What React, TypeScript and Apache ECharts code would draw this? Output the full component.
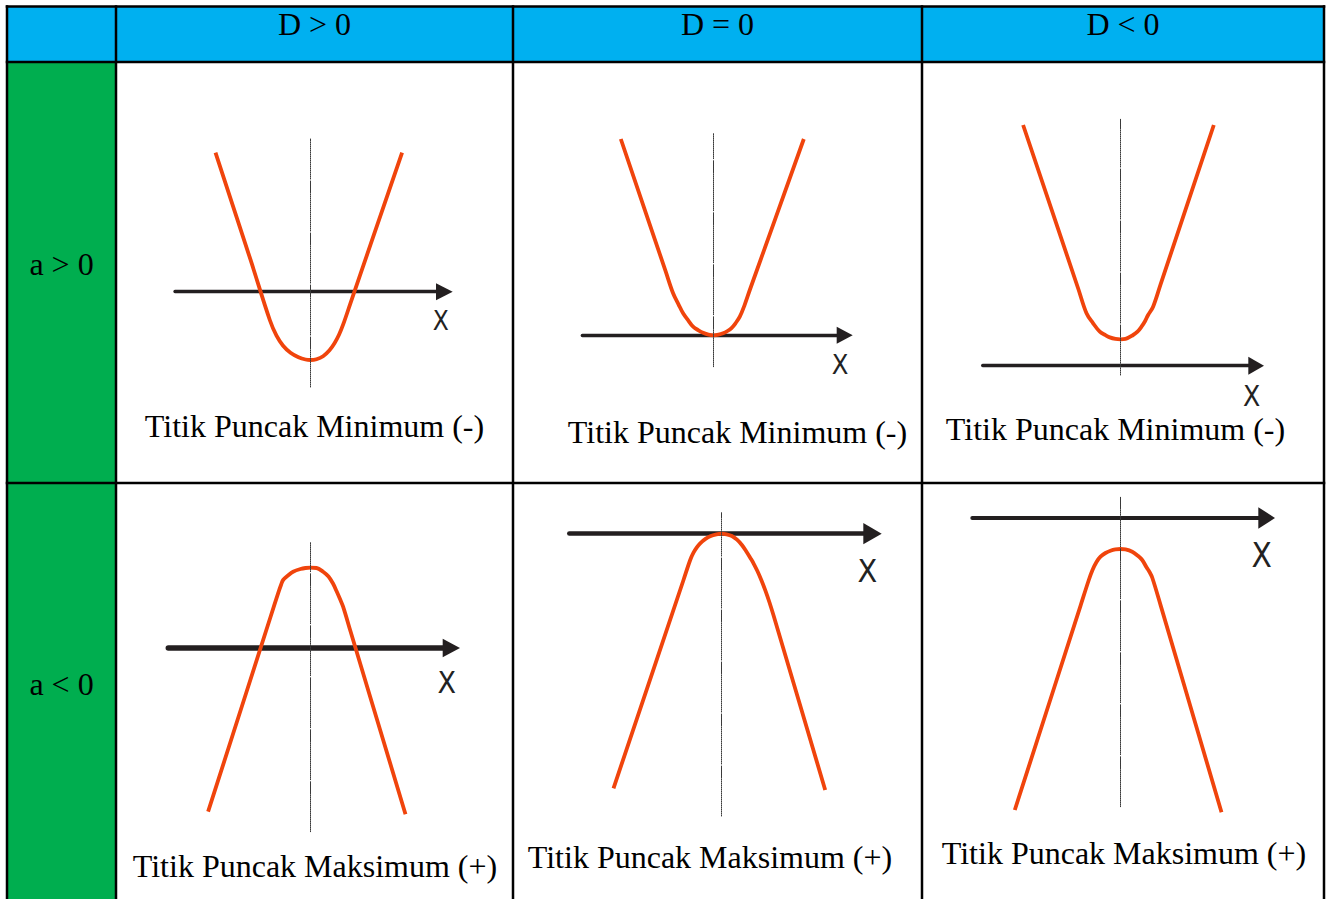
import React, { useEffect, useRef } from "react";
import * as echarts from "echarts";

// ---------- texts ----------
const columnHeaders = ["D > 0", "D = 0", "D < 0"];
const rowHeaders = ["a > 0", "a < 0"];
const captions = [
  "Titik Puncak Minimum (-)",
  "Titik Puncak Minimum (-)",
  "Titik Puncak Minimum (-)",
  "Titik Puncak Maksimum (+)",
  "Titik Puncak Maksimum (+)",
  "Titik Puncak Maksimum (+)",
];
const axisName = "X";

// ---------- curve data (x from symmetry axis, y up from the X axis) ----------
const curveAPosDPos = [
  [-95, 139], [-60, 32], [-40.7, -28.3], [-34, -44], [-27.4, -54], [-20, -61], [-12, -65.5],
  [-5, -67.8], [0, -68.3], [6, -67.5], [12.6, -64.5], [19, -58.5], [24, -51.5], [28.5, -43],
  [32.6, -33], [40, -11.4], [60, 47], [91.6, 139],
];
const curveAPosDZero = [
  [-92.7, 196.3], [-48, 64.4], [-40.4, 42], [-35, 31], [-30.4, 22], [-25, 14.5], [-20.4, 8.6],
  [-15, 5], [-10.4, 2.5], [-5, 0.6], [0, 0], [5, 0.6], [9.6, 2], [14, 4.3], [18, 7.2], [22, 12],
  [26.3, 18.6], [31, 30], [36.3, 45.3], [44, 66.8], [90.3, 196.3],
];
const curveAPosDNeg = [
  [-97.4, 240.7], [-42, 76.2], [-34, 52.4], [-27.4, 42.4], [-20.7, 34], [-15, 30.5],
  [-10.7, 28.3], [-5, 26.8], [0, 26.4], [5, 26.8], [12.6, 30.7], [17, 34], [21, 39],
  [24.5, 44.5], [27.6, 50.7], [32.6, 59], [40, 81.1], [93.3, 240.7],
];
const curveANegDPos = [
  [-102.4, -163.7], [-40, 31], [-32.4, 54.7], [-29.5, 63], [-27.4, 68], [-22, 73], [-17.4, 76.3],
  [-10, 79], [-5, 80], [0, 80.3], [6, 80], [12.6, 76.3], [18, 71.5], [22.5, 64.5], [26, 57],
  [29.5, 49], [32.6, 41.3], [40, 16.7], [95, -166.3],
];
const curveANegDZero = [
  [-108, -254.6], [-38, -46.3], [-31.3, -26.3], [-28, -19], [-24.5, -13.5], [-21.3, -9.6],
  [-16, -5.2], [-11.3, -2.5], [-5, -0.6], [0, 0], [5, -0.6], [10.4, -2.3], [15.5, -6],
  [20.4, -11.3], [25, -18], [29, -24.5], [32, -29.6], [36, -37.6], [40, -46.8], [44, -57.2],
  [48, -68.8], [52, -81.6], [103.7, -256.3],
];
const curveANegDNeg = [
  [-105.7, -292], [-40, -87.8], [-31.7, -62], [-28, -52], [-24, -44], [-20, -38.7], [-15, -35],
  [-10, -32.7], [-5, -31.4], [0, -31], [5, -31.4], [11.7, -33.7], [17, -37.5], [21.7, -42],
  [26, -49.3], [29, -54], [31.7, -59.5], [40, -86.9], [101, -294.3],
];
const curves = [curveAPosDPos, curveAPosDZero, curveAPosDNeg, curveANegDPos, curveANegDZero, curveANegDNeg];

// ---------- layout (pixels) ----------
const cellLayout = [
  { symX: 310.5, axisY: 291.7, start: 175, tip: 452.7, len: 16.7, perp: 17, lw: 3.3, top: 139, bottom: 387, xdx: -12, xdy: 29, xfs: 26 },
  { symX: 713.5, axisY: 335.3, start: 582.3, tip: 852.7, len: 16, perp: 17, lw: 3.3, top: 133, bottom: 366.7, xdx: -12.7, xdy: 29.7, xfs: 27 },
  { symX: 1120.5, axisY: 365.7, start: 982.7, tip: 1264, len: 15.7, perp: 18, lw: 3.3, top: 119.3, bottom: 375, xdx: -12.3, xdy: 30.5, xfs: 28 },
  { symX: 310.5, axisY: 648, start: 168.3, tip: 460, len: 17.3, perp: 18.3, lw: 5.5, top: 541.7, bottom: 831.7, xdx: -13.3, xdy: 34.7, xfs: 30 },
  { symX: 721.5, axisY: 533.7, start: 569.3, tip: 881.7, len: 18.4, perp: 21.3, lw: 4.5, top: 512.7, bottom: 816, xdx: -14.4, xdy: 37, xfs: 32 },
  { symX: 1120.5, axisY: 518, start: 972.3, tip: 1275, len: 16.7, perp: 21.7, lw: 4, top: 497.3, bottom: 806.7, xdx: -13.3, xdy: 37, xfs: 33 },
];
const captionPos = [
  [314.5, 425.5], [737.5, 432], [1115.5, 428.5],
  [315, 866], [710, 857], [1124, 853],
];
const colCenters = [314.5, 717.5, 1123];
const rowCenters = [264, 684];
const vLines = [7, 116, 513, 922, 1324];
const hLines = [6.5, 62, 483];

const SERIF = '"Liberation Serif", "Times New Roman", serif';
const SANS_NARROW = '"Liberation Sans Narrow", "DejaVu Sans Condensed", "Liberation Sans", sans-serif';
const CURVE_COLOR = "#F0440C";
const AXIS_COLOR = "#231F20";

function dashPattern(): number[] {
  const arr: number[] = [];
  for (let i = 0; i < 19; i++) arr.push(1, 1);
  arr.push(12, 2);
  return arr;
}

export default function App() {
  const ref = useRef<HTMLDivElement>(null);

  useEffect(() => {
    if (!ref.current) return;
    const chart = echarts.init(ref.current, undefined, { renderer: "svg" });

    const grids = cellLayout.map((c) => {
      const xMin = c.start - c.symX;
      const xMax = c.tip - c.len / 2 - c.symX;
      const yMin = c.axisY - c.bottom;
      const yMax = c.axisY - c.top;
      return { left: c.start, top: c.top, width: xMax - xMin, height: yMax - yMin, xMin, xMax, yMin, yMax };
    });

    const graphic: any[] = [];
    graphic.push({
      type: "rect", z: -10,
      shape: { x: vLines[0], y: hLines[0], width: vLines[4] - vLines[0], height: hLines[1] - hLines[0] },
      style: { fill: "#00B0F0" },
    });
    graphic.push({
      type: "rect", z: -10,
      shape: { x: vLines[0], y: hLines[1], width: vLines[1] - vLines[0], height: 910 - hLines[1] },
      style: { fill: "#00AE4F" },
    });
    vLines.forEach((x) =>
      graphic.push({ type: "line", z: -5, shape: { x1: x, y1: hLines[0] - 1.25, x2: x, y2: 910 }, style: { stroke: "#000", lineWidth: 2.5 } })
    );
    hLines.forEach((y) =>
      graphic.push({ type: "line", z: -5, shape: { x1: vLines[0] - 1.25, y1: y, x2: vLines[4] + 1.25, y2: y }, style: { stroke: "#000", lineWidth: 2.5 } })
    );
    columnHeaders.forEach((t, i) =>
      graphic.push({
        type: "text", x: colCenters[i], y: 24.2,
        style: { text: t, fill: "#000", fontSize: 32, fontFamily: SERIF, align: "center", verticalAlign: "middle" },
      })
    );
    rowHeaders.forEach((t, i) =>
      graphic.push({
        type: "text", x: 61.5, y: rowCenters[i],
        style: { text: t, fill: "#000", fontSize: 32, fontFamily: SERIF, align: "center", verticalAlign: "middle" },
      })
    );
    captions.forEach((t, i) =>
      graphic.push({
        type: "text", x: captionPos[i][0], y: captionPos[i][1],
        style: { text: t, fill: "#000", fontSize: 32, fontFamily: SERIF, align: "center", verticalAlign: "middle" },
      })
    );

    const option: any = {
      animation: false,
      backgroundColor: "#ffffff",
      grid: grids.map((g) => ({ left: g.left, top: g.top, width: g.width, height: g.height, containLabel: false })),
      xAxis: cellLayout.map((c, i) => ({
        type: "value",
        gridIndex: i,
        min: grids[i].xMin,
        max: grids[i].xMax,
        z: 0,
        axisLine: {
          show: true,
          onZero: true,
          symbol: ["none", "triangle"],
          symbolSize: [c.perp, c.len],
          lineStyle: { color: AXIS_COLOR, width: c.lw },
        },
        axisTick: { show: false },
        axisLabel: { show: false },
        splitLine: { show: false },
        name: axisName,
        nameLocation: "end",
        nameGap: c.len / 2 + c.xdx,
        nameTextStyle: {
          color: "#222",
          fontSize: c.xfs,
          fontFamily: SANS_NARROW,
          align: "center",
          verticalAlign: "top",
          padding: [c.xdy - c.xfs / 2, 0, 0, 0],
        },
      })),
      yAxis: cellLayout.map((c, i) => ({
        type: "value",
        gridIndex: i,
        min: grids[i].yMin,
        max: grids[i].yMax,
        z: 4,
        axisLine: {
          show: true,
          onZero: true,
          lineStyle: { color: "#3a3a3a", width: 1, type: dashPattern() },
        },
        axisTick: { show: false },
        axisLabel: { show: false },
        splitLine: { show: false },
      })),
      series: curves.map((pts, i) => ({
        type: "line",
        xAxisIndex: i,
        yAxisIndex: i,
        data: pts,
        showSymbol: false,
        symbol: "none",
        smooth: 0.35,
        clip: false,
        z: 2,
        lineStyle: { color: CURVE_COLOR, width: 3.8 },
      })),
      graphic,
    };

    chart.setOption(option);
    return () => chart.dispose();
  }, []);

  return (
    <div
      ref={ref}
      style={{ position: "fixed", left: 0, top: 0, width: 1326, height: 899, background: "#fff" }}
    />
  );
}
